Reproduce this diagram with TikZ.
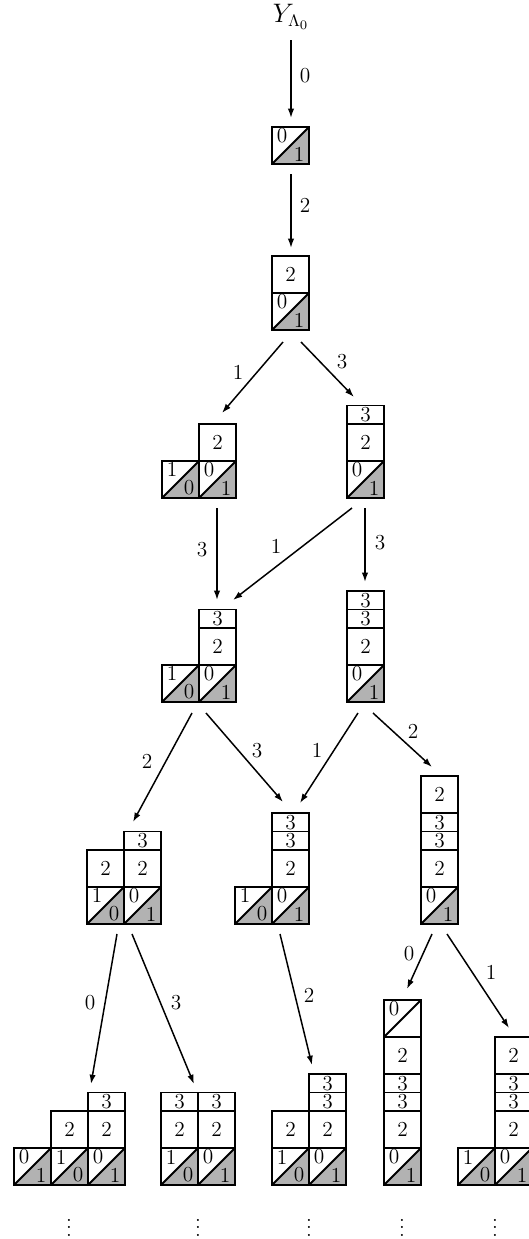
\documentclass[tikz,border=0pt]{standalone}
\usetikzlibrary{arrows.meta}

\newcommand{\tcell}[4]{%
  \fill[lowhalf] (#1,#2) -- ++(1,0) -- ++(0,1) -- cycle;
  \draw[cell] (#1,#2) rectangle ++(1,1) (#1,#2) -- ++(1,1);
  \node[num] at (#1+0.27,#2+0.76) {#3};
  \node[num] at (#1+0.73,#2+0.27) {#4};}
\newcommand{\ocell}[3]{%
  \draw[cell] (#1,#2) rectangle ++(1,1) (#1,#2) -- ++(1,1);
  \node[num] at (#1+0.27,#2+0.76) {#3};}
\newcommand{\fcell}[3]{%
  \draw[cell] (#1,#2) rectangle ++(1,1);
  \node[num] at (#1+0.5,#2+0.5) {#3};}
\newcommand{\hcell}[3]{%
  \draw[cell] (#1,#2) rectangle ++(1,0.5);
  \node[num] at (#1+0.5,#2+0.25) {#3};}

\begin{document}
\begin{tikzpicture}[x=0.018919cm, y=-0.018919cm,
    font=\fontsize{11.5}{14}\selectfont,
    cell/.style={line width=1pt},
    lowhalf/.style={fill=black!30},
    num/.style={inner sep=0pt},
    lbl/.style={inner sep=0pt},
    dots/.style={inner sep=0pt},
    arrow/.style={-{Latex[length=5pt,width=3.4pt]}, line width=0.8pt},
    wall/.style={shift={#1}, x=0.7cm, y=0.7cm}
  ]
  \clip (0,0) rectangle (529,1239);

  \node[inner sep=0pt, font=\fontsize{13.5}{16}\selectfont] (top) at (291,17) {$Y_{\Lambda_0}$};

  \begin{scope}[wall={(272,164)}]
    \tcell{0}{0}{0}{1}
  \end{scope}
  \begin{scope}[wall={(272,330)}]
    \tcell{0}{0}{0}{1} \fcell{0}{1}{2}
  \end{scope}
  \begin{scope}[wall={(199,498)}]
    \tcell{-1}{0}{1}{0} \tcell{0}{0}{0}{1} \fcell{0}{1}{2}
  \end{scope}
  \begin{scope}[wall={(347,498)}]
    \tcell{0}{0}{0}{1} \fcell{0}{1}{2} \hcell{0}{2}{3}
  \end{scope}
  \begin{scope}[wall={(199,702)}]
    \tcell{-1}{0}{1}{0} \tcell{0}{0}{0}{1} \fcell{0}{1}{2} \hcell{0}{2}{3}
  \end{scope}
  \begin{scope}[wall={(347,702)}]
    \tcell{0}{0}{0}{1} \fcell{0}{1}{2} \hcell{0}{2}{3} \hcell{0}{2.5}{3}
  \end{scope}
  \begin{scope}[wall={(124,924)}]
    \tcell{-1}{0}{1}{0} \tcell{0}{0}{0}{1} \fcell{-1}{1}{2} \fcell{0}{1}{2}
    \hcell{0}{2}{3}
  \end{scope}
  \begin{scope}[wall={(272,924)}]
    \tcell{-1}{0}{1}{0} \tcell{0}{0}{0}{1} \fcell{0}{1}{2} \hcell{0}{2}{3}
    \hcell{0}{2.5}{3}
  \end{scope}
  \begin{scope}[wall={(421,924)}]
    \tcell{0}{0}{0}{1} \fcell{0}{1}{2} \hcell{0}{2}{3} \hcell{0}{2.5}{3}
    \fcell{0}{3}{2}
  \end{scope}
  \begin{scope}[wall={(88,1185)}]
    \tcell{-2}{0}{0}{1} \tcell{-1}{0}{1}{0} \tcell{0}{0}{0}{1}
    \fcell{-1}{1}{2} \fcell{0}{1}{2} \hcell{0}{2}{3}
  \end{scope}
  \begin{scope}[wall={(198,1185)}]
    \tcell{-1}{0}{1}{0} \tcell{0}{0}{0}{1} \fcell{-1}{1}{2} \fcell{0}{1}{2}
    \hcell{-1}{2}{3} \hcell{0}{2}{3}
  \end{scope}
  \begin{scope}[wall={(309,1185)}]
    \tcell{-1}{0}{1}{0} \tcell{0}{0}{0}{1} \fcell{-1}{1}{2} \fcell{0}{1}{2}
    \hcell{0}{2}{3} \hcell{0}{2.5}{3}
  \end{scope}
  \begin{scope}[wall={(384,1185)}]
    \tcell{0}{0}{0}{1} \fcell{0}{1}{2} \hcell{0}{2}{3} \hcell{0}{2.5}{3}
    \fcell{0}{3}{2} \ocell{0}{4}{0}
  \end{scope}
  \begin{scope}[wall={(495,1185)}]
    \tcell{-1}{0}{1}{0} \tcell{0}{0}{0}{1} \fcell{0}{1}{2} \hcell{0}{2}{3}
    \hcell{0}{2.5}{3} \fcell{0}{3}{2}
  \end{scope}

  \coordinate (top-s) at (291,40);
  \coordinate (A-n) at (291,118);
  \coordinate (A-s) at (291,174);
  \coordinate (B-n) at (291,248);
  \coordinate (B-sw) at (283,342);
  \coordinate (B-se) at (301,342);
  \coordinate (C-n) at (222,413);
  \coordinate (C-s) at (217,508);
  \coordinate (D-n) at (354,397);
  \coordinate (D-sw) at (352,508);
  \coordinate (D-s) at (365,508);
  \coordinate (E-n) at (217,600);
  \coordinate (E-ne) at (233,600);
  \coordinate (E-sw) at (192,713);
  \coordinate (E-se) at (206,713);
  \coordinate (F-n) at (365,582);
  \coordinate (F-sw) at (358,713);
  \coordinate (F-se) at (373,713);
  \coordinate (G-n) at (133,822);
  \coordinate (G-sw) at (117,934);
  \coordinate (G-se) at (132,934);
  \coordinate (H-nw) at (283,802);
  \coordinate (H-ne) at (300,803);
  \coordinate (H-s) at (280,934);
  \coordinate (I-n) at (432,767);
  \coordinate (I-sw) at (432,934);
  \coordinate (I-se) at (447,934);
  \coordinate (J-n) at (91,1084);
  \coordinate (K-n) at (194,1084);
  \coordinate (L-n) at (312,1065);
  \coordinate (M-n) at (407,989);
  \coordinate (N-n) at (509,1028);

  \draw[arrow] (top-s) -- (A-n);
  \draw[arrow] (A-s) -- (B-n);
  \draw[arrow] (B-sw) -- (C-n);
  \draw[arrow] (B-se) -- (D-n);
  \draw[arrow] (C-s) -- (E-n);
  \draw[arrow] (D-sw) -- (E-ne);
  \draw[arrow] (D-s) -- (F-n);
  \draw[arrow] (E-sw) -- (G-n);
  \draw[arrow] (E-se) -- (H-nw);
  \draw[arrow] (F-sw) -- (H-ne);
  \draw[arrow] (F-se) -- (I-n);
  \draw[arrow] (G-sw) -- (J-n);
  \draw[arrow] (G-se) -- (K-n);
  \draw[arrow] (H-s) -- (L-n);
  \draw[arrow] (I-sw) -- (M-n);
  \draw[arrow] (I-se) -- (N-n);

  \node[lbl] (l0) at (305,76) {0};
  \node[lbl] (l1) at (305,205) {2};
  \node[lbl] (l2) at (238,372) {1};
  \node[lbl] (l3) at (342,362) {3};
  \node[lbl] (l4) at (202,550) {3};
  \node[lbl] (l5) at (276,546) {1};
  \node[lbl] (l6) at (380,543) {3};
  \node[lbl] (l7) at (147,761) {2};
  \node[lbl] (l8) at (257,751) {3};
  \node[lbl] (l9) at (317,750) {1};
  \node[lbl] (l10) at (413,731) {2};
  \node[lbl] (l11) at (90,1003) {0};
  \node[lbl] (l12) at (176,1003) {3};
  \node[lbl] (l13) at (309,995) {2};
  \node[lbl] (l14) at (409,954) {0};
  \node[lbl] (l15) at (491,972) {1};

  \node[dots] (dJ) at (69,1222) {$\vdots$};
  \node[dots] (dK) at (198,1222) {$\vdots$};
  \node[dots] (dL) at (309,1222) {$\vdots$};
  \node[dots] (dM) at (402,1222) {$\vdots$};
  \node[dots] (dN) at (495,1222) {$\vdots$};
\end{tikzpicture}
\end{document}
